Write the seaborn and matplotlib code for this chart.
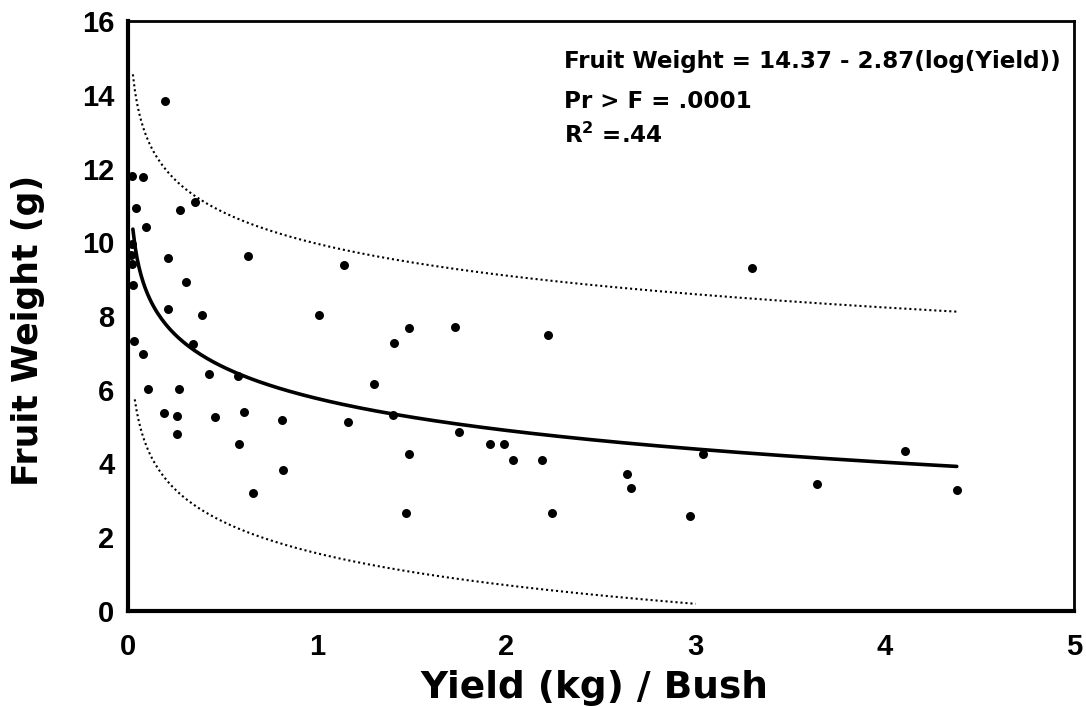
import numpy as np
import pandas as pd
import matplotlib
matplotlib.use('Agg')
import matplotlib.pyplot as plt
import seaborn as sns

# --- dados ---
yield_kg = [0.196, 0.078, 0.02, 0.042, 0.275, 0.354, 0.094, 0.02, 0.015, 0.02,
            0.21, 0.633, 1.139, 0.028, 0.305, 0.21, 0.39, 1.007, 0.033, 0.076,
            0.342, 1.407, 0.43, 0.58, 1.298, 0.107, 0.268, 0.187, 0.259, 0.46,
            0.61, 0.811, 1.16, 1.40, 0.259, 0.587, 0.818, 0.658, 1.483, 1.727,
            2.219, 1.75, 1.914, 1.986, 2.034, 2.19, 1.483, 2.635, 2.66, 3.04,
            1.471, 2.238, 2.97, 3.30, 4.106, 3.64, 4.38]
fruit_weight = [13.83, 11.77, 11.8, 10.92, 10.87, 11.09, 10.41, 9.95, 9.65, 9.4,
                9.58, 9.64, 9.38, 8.83, 8.92, 8.2, 8.04, 8.02, 7.32, 6.98,
                7.25, 7.27, 6.42, 6.37, 6.15, 6.03, 6.01, 5.36, 5.29, 5.25,
                5.40, 5.18, 5.12, 5.31, 4.79, 4.53, 3.82, 3.21, 7.68, 7.70,
                7.48, 4.85, 4.53, 4.53, 4.09, 4.09, 4.25, 3.71, 3.32, 4.25,
                2.65, 2.65, 2.57, 9.30, 4.34, 3.44, 3.28]

# equação impressa no gráfico (Yield em g = 1000 * kg)
intercepto = 14.37
inclinacao = 2.87
meia_faixa = 4.2   # distância lida entre a curva e as faixas pontilhadas

df = pd.DataFrame({'Yield': yield_kg, 'Fruit': fruit_weight})

x_fit = np.linspace(0.025, 4.38, 400)
fit = intercepto - inclinacao * np.log10(1000 * x_fit)
x_inf = np.linspace(0.035, 3.0, 300)
inf = intercepto - inclinacao * np.log10(1000 * x_inf) - meia_faixa

# --- gráfico ---
sns.set_theme(style='white')
plt.rcParams['font.family'] = ['Liberation Sans', 'DejaVu Sans']
plt.rcParams['font.weight'] = 'bold'
plt.rcParams['text.color'] = 'black'
plt.rcParams['axes.labelcolor'] = 'black'
plt.rcParams['xtick.color'] = 'black'
plt.rcParams['ytick.color'] = 'black'

fig = plt.figure(figsize=(10.86, 7.07), dpi=100)
ax = fig.add_axes([0.118, 0.136, 0.871, 0.834])

sns.lineplot(x=x_fit, y=fit + meia_faixa, color='black', lw=1.5,
             linestyle=(0, (1, 1.4)), ax=ax)
sns.lineplot(x=x_inf, y=inf, color='black', lw=1.5,
             linestyle=(0, (1, 1.4)), ax=ax)
sns.lineplot(x=x_fit, y=fit, color='black', lw=2.6, ax=ax)
sns.scatterplot(data=df, x='Yield', y='Fruit', color='black', s=42,
                edgecolor='black', linewidth=0, ax=ax, zorder=5)

ax.set_xlim(0, 5)
ax.set_ylim(0, 16)
ax.set_xticks(range(0, 6))
ax.set_yticks(range(0, 17, 2))
ax.tick_params(direction='in', length=9, width=1.5, labelsize=21)
ax.tick_params(axis='x', pad=16)
ax.tick_params(axis='y', pad=10)
for lab in ax.get_xticklabels() + ax.get_yticklabels():
    lab.set_fontweight('bold')

for lado, w in [('left', 3), ('bottom', 3), ('top', 2), ('right', 2)]:
    ax.spines[lado].set_visible(True)
    ax.spines[lado].set_color('black')
    ax.spines[lado].set_linewidth(w)

ax.set_xlabel('Yield (kg) / Bush', fontsize=27, fontweight='bold',
              family='DejaVu Sans', va='center')
ax.set_ylabel('Fruit Weight (g)', fontsize=25, fontweight='bold',
              family='DejaVu Sans', va='center')
ax.xaxis.set_label_coords(0.493, -0.131)
ax.yaxis.set_label_coords(-0.106, 0.476)

anot = dict(transform=ax.transAxes, fontsize=16.6, fontweight='bold',
            va='center', family='DejaVu Sans')
ax.text(0.461, 0.932, 'Fruit Weight = 14.37 - 2.87(log(Yield))', **anot)
ax.text(0.461, 0.864, 'Pr > F = .0001', **anot)
ax.text(0.461, 0.806, r'R$^\mathbf{2}$ =.44', **anot)

plt.savefig('out.png', dpi=100)
